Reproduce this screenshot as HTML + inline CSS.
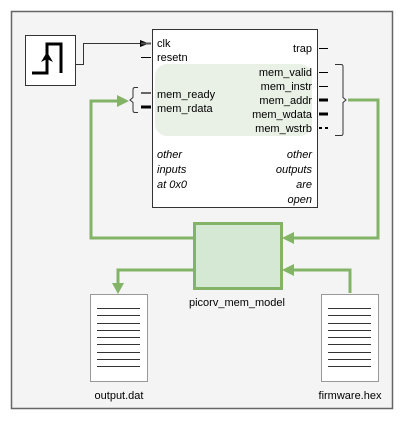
<!DOCTYPE html>
<html><head><style>body{margin:0;background:#fff}svg{display:block}text{font-family:"Liberation Sans",sans-serif;font-size:11px;fill:#000}</style></head><body>
<svg width="404" height="421" viewBox="0 0 404 421" xmlns="http://www.w3.org/2000/svg">
<rect x="11.5" y="11.5" width="381" height="397" fill="#f4f4f4" stroke="#666" stroke-width="1.5"/>
<rect x="25.5" y="35.5" width="50" height="50" fill="#fff" stroke="#333"/>
<path d="M32 73H47V44H61V73" fill="none" stroke="#000" stroke-width="3"/>
<path d="M47 52L41 62L47 59L53 62Z" fill="#000"/>
<path d="M76 64.5H83.5V43.5H141" fill="none" stroke="#333"/>
<path d="M149 43.5L140 40V47Z" fill="#000"/>
<rect x="152.5" y="29.5" width="165" height="178" fill="#fff" stroke="#333"/>
<rect x="155" y="64" width="157" height="72" rx="12" fill="#e9f1e6"/>
<text x="157" y="47">clk</text><text x="157" y="61">resetn</text>
<line x1="141" y1="43.5" x2="151" y2="43.5" stroke="#555" stroke-width="2"/>
<line x1="141" y1="57.5" x2="151" y2="57.5" stroke="#000"/>
<text x="157" y="98">mem_ready</text><text x="157" y="112">mem_rdata</text>
<line x1="141" y1="93" x2="151" y2="93" stroke="#666" stroke-width="2"/>
<line x1="141" y1="107" x2="151" y2="107" stroke="#000" stroke-width="3"/>
<path d="M138 87.5h-3q-2 0-2 2v8l-3 2.5l3 2.5v8q0 2 2 2h3" fill="none" stroke="#333"/>
<g font-style="italic"><text x="157" y="158" font-style="italic">other</text><text x="157" y="173" font-style="italic">inputs</text><text x="157" y="188" font-style="italic">at 0x0</text></g>
<g text-anchor="end"><text x="312" y="52">trap</text><text x="312" y="76">mem_valid</text><text x="312" y="90">mem_instr</text><text x="312" y="104">mem_addr</text><text x="312" y="118">mem_wdata</text><text x="312" y="132">mem_wstrb</text>
<text x="312" y="158" font-style="italic">other</text><text x="312" y="173" font-style="italic">outputs</text><text x="312" y="188" font-style="italic">are</text><text x="312" y="203" font-style="italic">open</text></g>
<line x1="319" y1="48.5" x2="328" y2="48.5" stroke="#000"/>
<line x1="319" y1="72.5" x2="328" y2="72.5" stroke="#000"/>
<line x1="319" y1="86.5" x2="328" y2="86.5" stroke="#000"/>
<line x1="319" y1="100" x2="328" y2="100" stroke="#000" stroke-width="3"/>
<line x1="319" y1="114" x2="328" y2="114" stroke="#000" stroke-width="3"/>
<line x1="319" y1="128" x2="328" y2="128" stroke="#000" stroke-width="2" stroke-dasharray="3,3"/>
<path d="M335 64.5h6q2 0 2 2v31l3 2.5l-3 2.5v31q0 2-2 2h-6" fill="none" stroke="#333"/>
<g fill="none" stroke="#82b366" stroke-width="3">
<path d="M348 100H378V238H290"/>
<path d="M193 238H91V101H120"/>
<path d="M193 270H118V285"/>
<path d="M350 293V270H290"/>
</g>
<g fill="#82b366">
<path d="M129 101L117 95V107Z"/>
<path d="M282 238L294 232V244Z"/>
<path d="M282 270L294 264V276Z"/>
<path d="M118 294L112 283H124Z"/>
</g>
<rect x="194.5" y="223.5" width="87" height="65" fill="#d5e8d4" stroke="#82b366" stroke-width="3"/>
<text x="237" y="306" text-anchor="middle">picorv_mem_model</text>
<rect x="90.5" y="294.5" width="57" height="87" fill="#fff" stroke="#999"/>
<rect x="321.5" y="294.5" width="57" height="87" fill="#fff" stroke="#999"/>
<g stroke="#333"><path d="M97 308.5h43M97 315.5h43M97 323.5h43M97 330.5h43M97 337.5h43M97 344.5h43M97 352.5h43M97 359.5h43M97 366.5h43"/>
<path d="M328 308.5h43M328 315.5h43M328 323.5h43M328 330.5h43M328 337.5h43M328 344.5h43M328 352.5h43M328 359.5h43M328 366.5h43"/></g>
<text x="119" y="399" text-anchor="middle" font-size="10">output.dat</text>
<text x="350" y="399" text-anchor="middle" font-size="10">firmware.hex</text>
</svg>
</body></html>
